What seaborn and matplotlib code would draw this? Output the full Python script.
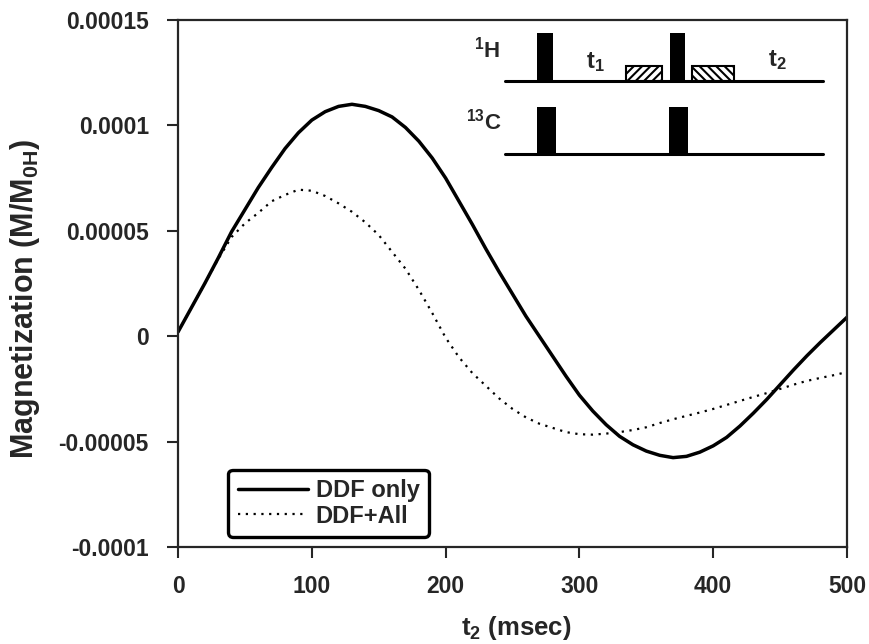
import numpy as np
import pandas as pd
import matplotlib
matplotlib.use("Agg")
import matplotlib.pyplot as plt
import seaborn as sns

# t2 (msec) and magnetization (units of 1e-5 M/M0H)
t2 = list(range(0, 501, 10))
ddf_only = [0.2, 1.35, 2.5, 3.7, 4.95, 6.0, 7.05, 8.0, 8.9, 9.65,
            10.25, 10.65, 10.9, 11.0, 10.9, 10.7, 10.4, 9.9, 9.25, 8.45,
            7.5, 6.4, 5.3, 4.15, 3.05, 2.0, 0.95, 0.0, -0.95, -1.9,
            -2.8, -3.55, -4.2, -4.75, -5.15, -5.45, -5.65, -5.76, -5.7, -5.5,
            -5.2, -4.8, -4.26, -3.65, -3.0, -2.3, -1.6, -0.93, -0.3, 0.3, 0.9]
ddf_all = [0.2, 1.35, 2.5, 3.65, 4.7, 5.35, 5.85, 6.4, 6.7, 6.95,
           6.9, 6.65, 6.3, 5.9, 5.4, 4.8, 4.0, 3.2, 2.2, 1.1,
           -0.07, -1.0, -1.75, -2.35, -2.95, -3.45, -3.85, -4.15, -4.35, -4.55,
           -4.65, -4.67, -4.62, -4.55, -4.45, -4.32, -4.12, -3.94, -3.78, -3.62,
           -3.45, -3.26, -3.07, -2.88, -2.7, -2.5, -2.3, -2.12, -1.98, -1.85, -1.7]
yticks = [-0.0001, -0.00005, 0, 0.00005, 0.0001, 0.00015]
ytick_labels = ["-0.0001", "-0.00005", "0", "0.00005", "0.0001", "0.00015"]
xticks = [0, 100, 200, 300, 400, 500]

df = pd.DataFrame({"t2": t2 * 2,
                   "mag": np.array(ddf_only + ddf_all) * 1e-5,
                   "series": ["DDF only"] * len(t2) + ["DDF+All"] * len(t2)})

sns.set_style("ticks")
plt.rcParams["font.family"] = ["Liberation Sans", "DejaVu Sans"]
plt.rcParams["font.weight"] = "bold"
plt.rcParams["mathtext.fontset"] = "custom"
plt.rcParams["mathtext.rm"] = "Liberation Sans:bold"
plt.rcParams["mathtext.it"] = "Liberation Sans:bold"
plt.rcParams["mathtext.bf"] = "Liberation Sans:bold"
plt.rcParams["hatch.linewidth"] = 1.5

fig = plt.figure(figsize=(8.7, 6.44), dpi=100)
ax = fig.add_axes([0.2046, 0.1506, 0.769, 0.8184])

sns.lineplot(data=df[df.series == "DDF only"], x="t2", y="mag", ax=ax,
             color="black", linewidth=2.5, label="DDF only")
sns.lineplot(data=df[df.series == "DDF+All"], x="t2", y="mag", ax=ax,
             color="black", linewidth=1.6, linestyle=(0, (1, 2.5)), label="DDF+All")

ax.set_xlim(0, 500)
ax.set_ylim(-0.0001, 0.00015)
ax.set_xticks(xticks)
ax.set_xticklabels([str(x) for x in xticks])
ax.set_yticks(yticks)
ax.set_yticklabels(ytick_labels)
ax.tick_params(direction="out", length=8, width=1.5, labelsize=16.5)
ax.tick_params(axis="y", pad=13)
ax.tick_params(axis="x", pad=12)
for s in ax.spines.values():
    s.set_linewidth(1.6)
    s.set_visible(True)

ax.set_xlabel(r"t$_2$ (msec)", fontsize=18.5, fontweight="bold")
ax.set_ylabel(r"Magnetization (M/M$_{0H}$)", fontsize=22, fontweight="bold")
ax.xaxis.set_label_coords(0.506, -0.128)
ax.yaxis.set_label_coords(-0.203, 0.47)

leg = ax.legend(loc="lower left", bbox_to_anchor=(0.075, 0.019), fontsize=17,
                frameon=True, fancybox=True, handlelength=3.0, handletextpad=0.3,
                borderpad=0.4, labelspacing=0.1, borderaxespad=0)
leg.get_frame().set_edgecolor("black")
leg.get_frame().set_linewidth(2.4)
leg.get_frame().set_alpha(1)

# pulse sequence inset, laid out in figure pixels
ins = fig.add_axes([0, 0, 1, 1], facecolor="none")
ins.set_xlim(0, 870)
ins.set_ylim(644, 0)
ins.axis("off")
lines_y = [81, 154]
for ly in lines_y:
    ins.plot([505, 823], [ly, ly], color="black", lw=2.2)
pulses = [(537, 553, 33, 81), (670, 685, 33, 81), (537, 556, 107, 154), (669, 688, 107, 154)]
for x0, x1, y0, y1 in pulses:
    ins.fill_between([x0, x1], y0, y1, color="black", lw=0)
for (x0, x1), h in zip([(626, 662), (692, 734)], ["////", "\\\\\\\\"]):
    ins.add_patch(plt.Rectangle((x0, 66), x1 - x0, 15, facecolor="white",
                                edgecolor="black", hatch=h, lw=1.5))
ins.text(474, 50, r"$^{1}$H", fontsize=16, va="center", ha="left")
ins.text(466, 122, r"$^{13}$C", fontsize=16, va="center", ha="left")
ins.text(595, 62, r"t$_1$", fontsize=17, va="center", ha="center")
ins.text(777, 60, r"t$_2$", fontsize=17, va="center", ha="center")

fig.savefig("out.png", dpi=100)
